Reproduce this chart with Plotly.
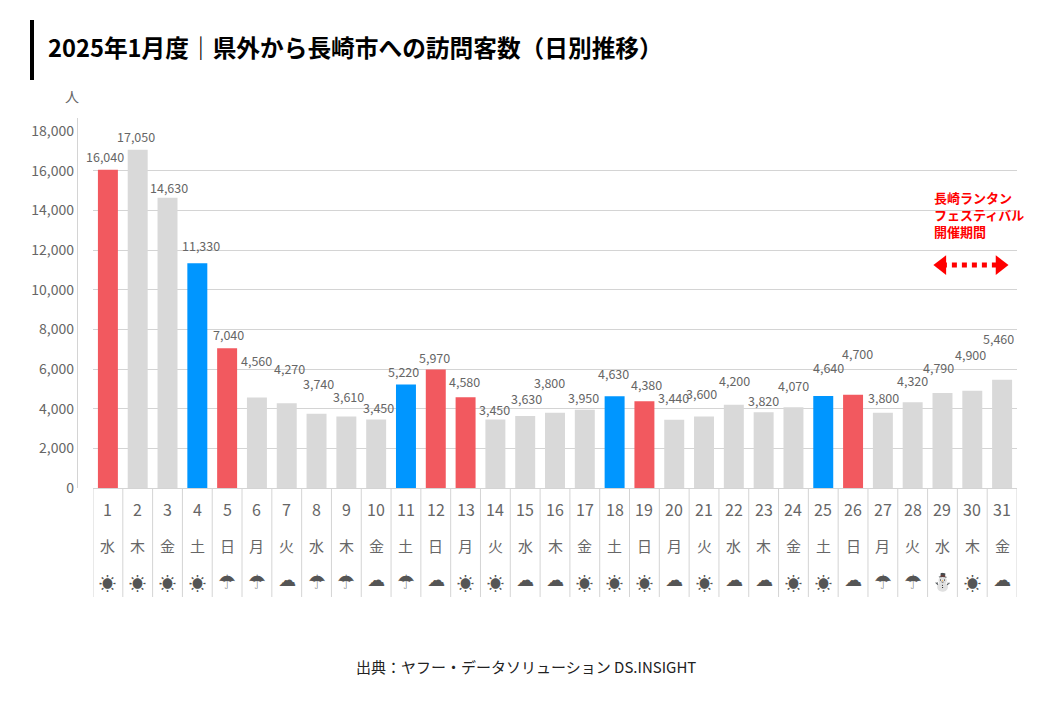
import plotly.graph_objects as go

days = list(range(1, 32))
weekdays = ["水","木","金","土","日","月","火","水","木","金","土","日","月","火","水","木","金","土","日","月","火","水","木","金","土","日","月","火","水","木","金"]
weather = ["☀","☀","☀","☀","☂","☂","☁","☂","☂","☁","☂","☁","☀","☀","☁","☁","☀","☀","☀","☁","☀","☁","☁","☀","☀","☁","☂","☂","⛄","☀","☁"]
visitors = [16040,17050,14630,11330,7040,4560,4270,3740,3610,3450,5220,5970,4580,3450,3630,3800,3950,4630,4380,3440,3600,4200,3820,4070,4640,4700,3800,4320,4790,4900,5460]
red_days = [1,5,12,13,19,26]
blue_days = [4,11,18,25]
y_ticks = list(range(0, 18001, 2000))
title_text = "2025年1月度｜県外から長崎市への訪問客数（日別推移）"
source_text = "出典：ヤフー・データソリューション DS.INSIGHT"
note_lines = ["長崎ランタン", "フェスティバル", "開催期間"]
arrow_x = [28.98, 30.93]
arrow_y = [11240, 11240]
label_dx = [-3,-2,1,4,1,0,3,2,2,2,-2,-1,-1,-1,1,-6,-1,-1,2,-1,-3,1,0,0,5,4,1,0,-4,-2,-4]
label_dy = [13,13,10,18,14,37,35,30,20,12,13,12,16,10,18,30,12,23,17,22,23,24,12,22,28,41,15,22,26,36,41]

RED, BLUE, GREY = "#F2595F", "#0096FF", "#D9D9D9"
TXT = "#666666"
LINE = "#D4D4D4"
FONT = "Noto Sans CJK JP"
OFF = 8  # page body margin
L, R, T, B = 93, 1017, 131, 488
def px(x): return (x - L) / (R - L)
def py(y): return (B - y) / (B - T)

colors = [RED if d in red_days else BLUE if d in blue_days else GREY for d in days]

fig = go.Figure()
fig.add_bar(x=days, y=visitors, marker=dict(color=colors, line_width=0), width=0.67, showlegend=False)
fig.add_scatter(x=arrow_x, y=arrow_y, mode="lines+markers",
                line=dict(color="#FF0000", width=5, dash="5px,5px"),
                marker=dict(color="#FF0000", size=17, symbol=["triangle-left", "triangle-right"]),
                showlegend=False)

ann = []
for d, v, dx, dy in zip(days, visitors, label_dx, label_dy):
    ann.append(dict(x=d, y=v, text=f"{v:,}", showarrow=False, xshift=dx, yshift=dy, yanchor="middle",
                    font=dict(size=12.5, color=TXT)))
glyph_style = {
    "☀": dict(size=17, color="#555555", family=FONT),
    "☂": dict(size=20, color="#555555", family="DejaVu Sans"),
    "☁": dict(size=18, color="#555555", family="DejaVu Sans"),
    "⛄": dict(size=17, color="#3F7FD0", family="DejaVu Sans"),
}
glyph_lift = {"☀": 0, "☂": 0, "☁": 3, "⛄": 0}
for d, w, s in zip(days, weekdays, weather):
    ann.append(dict(x=d, y=py(509), yref="paper", yanchor="middle", text=str(d), showarrow=False,
                    font=dict(size=16, color=TXT)))
    ann.append(dict(x=d, y=py(545), yref="paper", yanchor="middle", text=w, showarrow=False,
                    font=dict(size=15, color=TXT)))
    ann.append(dict(x=d, y=py(582), yref="paper", yanchor="middle", yshift=glyph_lift[s], text=s, showarrow=False,
                    font=glyph_style[s]))
ann.append(dict(x=px(46), y=py(47), xref="paper", yref="paper", xanchor="left", yanchor="middle",
                text=f"<b>{title_text}</b>", showarrow=False, font=dict(size=23.7, color="#000000")))
ann.append(dict(x=px(72), y=py(96), xref="paper", yref="paper", xanchor="center", yanchor="middle",
                text="人", showarrow=False, font=dict(size=14, color=TXT)))
ann.append(dict(x=px(526), y=py(666), xref="paper", yref="paper", xanchor="center", yanchor="middle",
                text=source_text, showarrow=False, font=dict(size=15, color="#222222")))
ann.append(dict(x=px(932), y=py(214), xref="paper", yref="paper", xanchor="left", yanchor="middle", align="left",
                text="<b>" + "<br>".join(note_lines) + "</b>", showarrow=False,
                font=dict(size=13, color="#FF0000")))

shapes = [dict(type="rect", xref="paper", yref="paper", x0=px(30), x1=px(34), y0=py(80), y1=py(20),
               fillcolor="#000000", line_width=0),
          dict(type="line", xref="paper", yref="paper", x0=px(77.5), x1=px(77.5), y0=py(118), y1=0,
               line=dict(color=LINE, width=1))]
for i in range(32):
    shapes.append(dict(type="line", xref="x", yref="paper", x0=i + 0.5, x1=i + 0.5, y0=0, y1=py(597),
                       line=dict(color=LINE, width=1)))

fig.update_layout(
    width=1040 - OFF, height=720 - OFF, autosize=False,
    margin=dict(l=L - OFF, r=1040 - R, t=T - OFF, b=720 - B, pad=0),
    paper_bgcolor="#FFFFFF", plot_bgcolor="#FFFFFF",
    font=dict(family=FONT, color=TXT),
    bargap=0.33,
    annotations=ann, shapes=shapes,
    xaxis=dict(range=[0.5, 31.5], showticklabels=False, showgrid=False, zeroline=False, ticks="",
               showline=True, linecolor=LINE, linewidth=1),
    yaxis=dict(range=[0, 18000], tickvals=y_ticks, tickformat=",", gridcolor=LINE, gridwidth=1, zeroline=False,
               ticks="", showline=False, ticklabelstandoff=18, tickfont=dict(size=14, color=TXT)),
)
fig.write_html("out.html")
